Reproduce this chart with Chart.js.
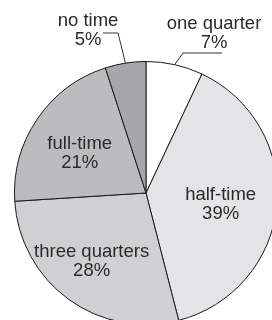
<!DOCTYPE html>
<html>
<head>
<meta charset="utf-8">
<script src="https://cdn.jsdelivr.net/npm/chart.js@4/dist/chart.umd.min.js"></script>
<style>
html,body{margin:0;padding:0;background:#fff;overflow:hidden;width:272px;height:320px;}
#wrap{position:absolute;left:0;top:0;width:292px;height:386px;}
</style>
</head>
<body>
<div id="wrap"><canvas id="c" width="292" height="386"></canvas></div>
<script>
const categories = ["one quarter", "half-time", "three quarters", "full-time", "no time"];
const shares = [7, 39, 28, 21, 5];
const sliceColors = ["#ffffff", "#e4e4e6", "#d0d0d2", "#bcbcbe", "#a7a7a9"];

// label placement: inside (radius fraction) or outside with leader line
const labelStyle = {
  "one quarter": {outside: true, text: [214, 24], elbow: [183, 53], end: [222, 53]},
  "half-time": {frac: 0.57, dx: 0, dy: 4},
  "three quarters": {frac: 0.6, dx: -8, dy: 5},
  "full-time": {frac: 0.6, dx: -1, dy: 5},
  "no time": {outside: true, text: [88, 21], elbow: [118, 33], end: [103, 33]}
};

const labelPlugin = {
  id: 'pieLabels',
  afterDatasetsDraw(chart) {
    const ctx = chart.ctx;
    const meta = chart.getDatasetMeta(0);
    ctx.save();
    ctx.font = '18.5px "Liberation Sans", Arial, sans-serif';
    ctx.fillStyle = '#2a2a2a';
    ctx.textAlign = 'center';
    ctx.textBaseline = 'middle';
    meta.data.forEach((arc, i) => {
      const name = categories[i];
      const st = labelStyle[name];
      const p = arc.getProps(['x', 'y', 'startAngle', 'endAngle', 'outerRadius']);
      const mid = (p.startAngle + p.endAngle) / 2;
      const pct = shares[i] + '%';
      if (st.outside) {
        const ax = p.x + Math.cos(mid) * p.outerRadius;
        const ay = p.y + Math.sin(mid) * p.outerRadius;
        ctx.strokeStyle = '#333';
        ctx.lineWidth = 1;
        ctx.beginPath();
        ctx.moveTo(ax, ay);
        ctx.lineTo(st.elbow[0], st.elbow[1]);
        ctx.lineTo(st.end[0], st.end[1]);
        ctx.stroke();
        ctx.fillText(name, st.text[0], st.text[1]);
        ctx.fillText(pct, st.text[0], st.text[1] + 19);
      } else {
        const r = p.outerRadius * st.frac;
        const cx = p.x + Math.cos(mid) * r + st.dx;
        const cy = p.y + Math.sin(mid) * r + st.dy;
        ctx.fillText(name, cx, cy - 9.5);
        ctx.fillText(pct, cx, cy + 9.5);
      }
    });
    ctx.restore();
  }
};

new Chart(document.getElementById('c'), {
  type: 'pie',
  data: {
    labels: categories,
    datasets: [{
      data: shares,
      backgroundColor: sliceColors,
      borderColor: '#1a1a1a',
      borderWidth: 1
    }]
  },
  options: {
    responsive: false,
    animation: false,
    layout: {padding: {left: 14, right: 14, top: 61, bottom: 61}},
    plugins: {legend: {display: false}, tooltip: {enabled: false}}
  },
  plugins: [labelPlugin]
});
</script>
</body>
</html>
